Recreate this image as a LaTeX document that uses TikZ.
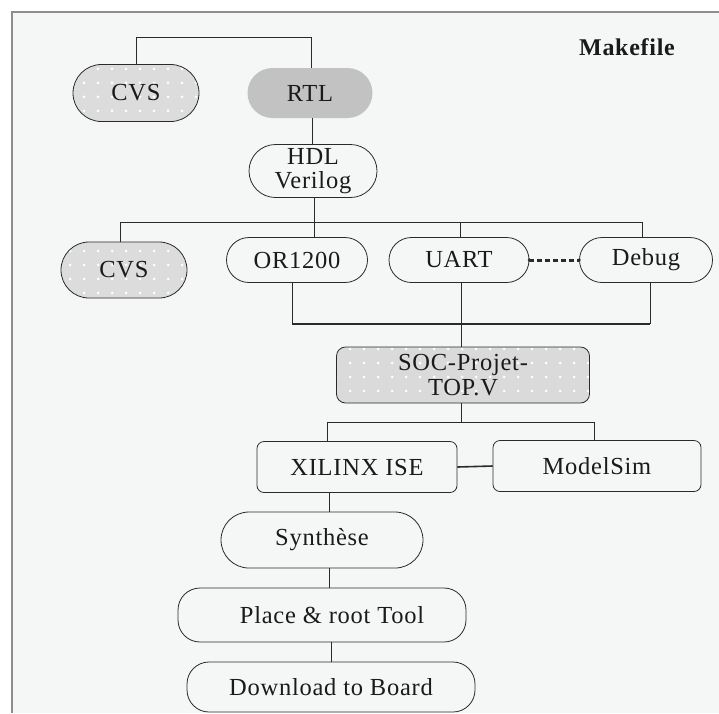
\documentclass[tikz,border=0pt]{standalone}
\usepackage{fontspec}
\setmainfont{Liberation Serif}[LetterSpace=3]
\usetikzlibrary{shapes.misc,patterns.meta}
\definecolor{bg}{HTML}{F5F7F7}
\definecolor{framec}{HTML}{8E8E8E}
\definecolor{ln}{HTML}{2A2A2A}
\definecolor{dotgray}{HTML}{DCDCDC}
\definecolor{socgray}{HTML}{DADADA}
\definecolor{rtlgray}{HTML}{C2C2C2}
\definecolor{txt}{HTML}{1A1A1A}
\tikzset{
  pill/.style={rounded rectangle, draw=ln, line width=0.8pt, inner sep=0pt, text=txt, align=center},
  rbox/.style={rectangle, rounded corners=7pt, draw=ln, line width=0.8pt, inner sep=0pt, text=txt, align=center},
  dotfill/.style={preaction={fill=#1}, pattern={Dots[distance=14pt,radius=1.5pt]}, pattern color=white},
  conn/.style={draw=ln, line width=0.8pt},
  bus/.style={draw=ln, line width=1.6pt},
  dotline/.style={draw=ln, line width=3pt, dash pattern=on 5pt off 3pt}
}
\begin{document}
\begin{tikzpicture}[x=1pt,y=-1pt,font=\fontsize{24.5}{26}\selectfont]
\useasboundingbox (0,0) rectangle (719,713);
\fill[bg] (12,12) rectangle (719,713);
\draw[framec, line width=1.5pt] (12,713) -- (12,12) -- (719,12);

\node[font=\fontsize{24}{26}\selectfont\bfseries, text=txt] (mk) at (627,47) {Makefile};

\node[pill, dotfill=dotgray, minimum width=126pt, minimum height=57pt] (cvsa) at (136,93) {CVS};
\node[rounded rectangle, fill=rtlgray, inner sep=0pt, text=txt, minimum width=125pt, minimum height=50pt] (rtl) at (310,93) {RTL};
\node[pill, minimum width=128pt, minimum height=53pt, font=\fontsize{24.5}{24}\selectfont] (hdl) at (313,171) {HDL\\Verilog};

\node[pill, dotfill=dotgray, minimum width=126pt, minimum height=56pt] (cvsb) at (124,270) {CVS};
\node[pill, minimum width=141pt, minimum height=45pt] (or) at (297,260) {OR1200};
\node[pill, minimum width=140pt, minimum height=45pt] (uart) at (459,260) {UART};
\node[pill, minimum width=133pt, minimum height=45pt] (dbg) at (646,260) {Debug};

\node[rbox, dotfill=socgray, rounded corners=9pt, minimum width=253pt, minimum height=56pt, font=\fontsize{24.5}{25}\selectfont] (soc) at (463,375) {SOC-Projet-\\TOP.V};

\node[rbox, minimum width=200pt, minimum height=51pt] (xil) at (357,467) {XILINX ISE};
\node[rbox, minimum width=208pt, minimum height=51pt] (ms) at (597,466) {ModelSim};

\node[pill, minimum width=202pt, minimum height=56pt] (syn) at (322,540) {Synthèse};
\node[rectangle, rounded corners=22pt, draw=ln, line width=0.8pt, text=txt, minimum width=288pt, minimum height=54pt] (par) at (322,615) {\hspace{20pt}Place \& root Tool};
\node[rectangle, rounded corners=22pt, draw=ln, line width=0.8pt, text=txt, minimum width=288pt, minimum height=50pt] (dl) at (331,687) {Download to Board};

% connectors
\draw[conn] (cvsa.north) -- (cvsa.north |- 0,37) -| ([xshift=1pt]rtl.north);
\draw[conn] ([xshift=2pt]rtl.south) -- ([xshift=2pt]rtl.south |- hdl.north);
\draw[conn] ([xshift=1pt]hdl.south) -- ([xshift=1pt]hdl.south |- or.north);
\draw[conn] ([xshift=-4pt]cvsb.north) -- ([xshift=-4pt]cvsb.north |- 0,222) -| ([xshift=-4pt]dbg.north);
\draw[conn] ([xshift=1pt]uart.north) -- ([xshift=1pt]uart.north |- 0,222);
\draw[dotline] (uart.east) -- (dbg.west);
\fill[ln] (uart.east) circle (1.8pt) (dbg.west) circle (1.8pt);

\draw[conn] ([xshift=-5pt]or.south) -- ([xshift=-5pt]or.south |- 0,324);
\draw[conn] ([xshift=4pt]dbg.south) -- ([xshift=4pt]dbg.south |- 0,324);
\draw[bus] ([xshift=-5pt]or.south |- 0,324) -- ([xshift=4pt]dbg.south |- 0,324);
\draw[conn] ([xshift=2pt]uart.south) -- ([xshift=2pt]uart.south |- soc.north);

\draw[conn] ([xshift=-2pt]soc.south) -- ([xshift=-2pt]soc.south |- 0,422);
\draw[conn] ([xshift=-30pt]xil.north) -- ([xshift=-30pt]xil.north |- 0,422) -| ([xshift=-3pt]ms.north);
\draw[bus] (xil.east) -- (ms.west);

\draw[conn] ([xshift=-28pt]xil.south) -- ([xshift=-28pt]xil.south |- syn.north);
\draw[conn] ([xshift=7pt]syn.south) -- ([xshift=7pt]syn.south |- par.north);
\draw[conn] ([xshift=9pt]par.south) -- ([xshift=9pt]par.south |- dl.north);
\end{tikzpicture}
\end{document}
